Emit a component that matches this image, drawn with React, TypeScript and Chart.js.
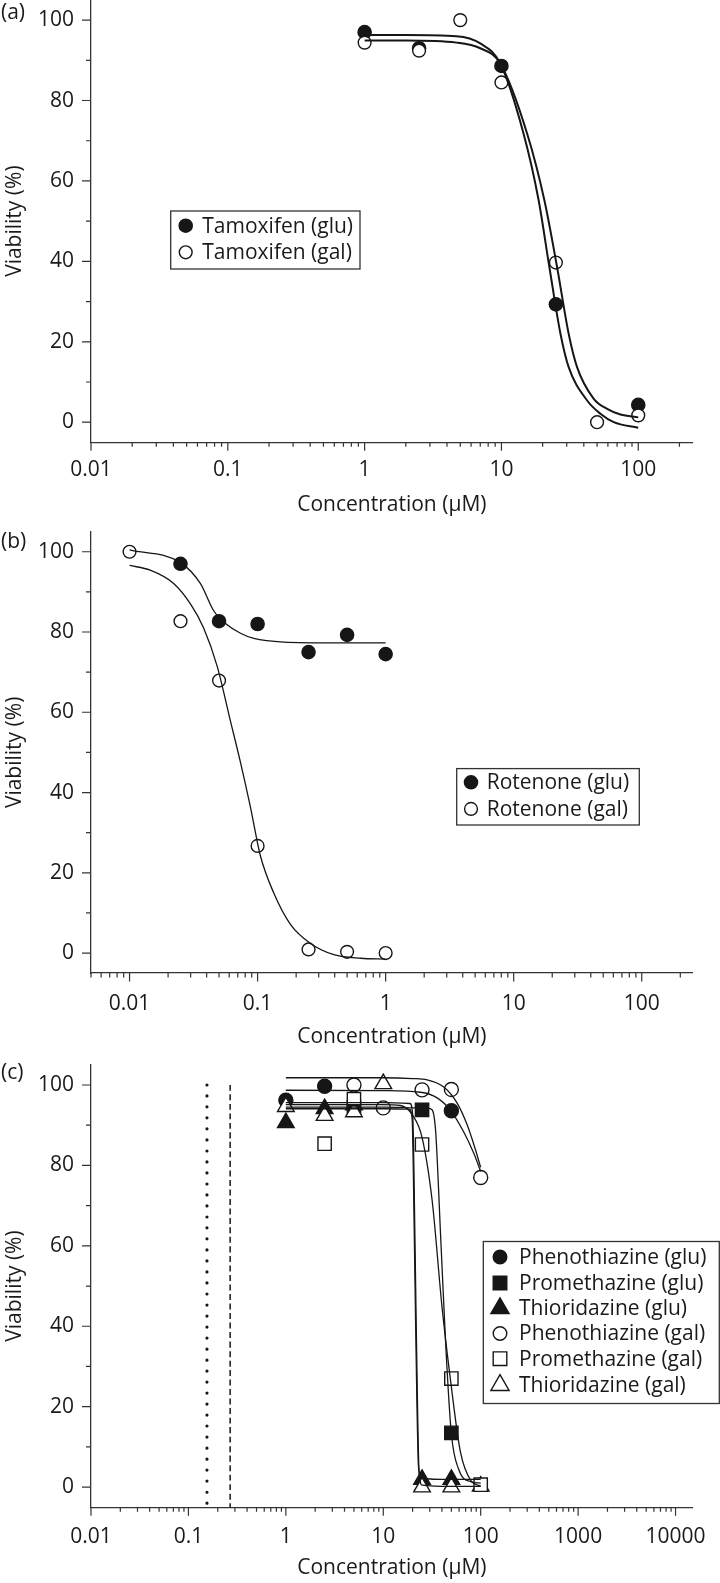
import React, { useEffect, useRef } from "react";
import { Chart, registerables } from "chart.js";

Chart.register(...registerables);

const FONT = "'Open Sans', 'Noto Sans', 'DejaVu Sans', sans-serif";
const INK = "#161616";
const TEXT_COLOR = "#1a1a1a";
const AXIS_COLOR = "#333333";
const FONT_SIZE = 21;

// ================= (a) Tamoxifen =================
const tamGluConc = [1, 2.5, 10, 25, 100];
const tamGluViab = [97.0, 93.0, 88.6, 29.3, 4.3];
const tamGalConc = [1, 2.5, 5, 10, 25, 50, 100];
const tamGalViab = [94.4, 92.4, 100.0, 84.5, 39.7, 0.0, 1.7];
const tamGluFitConc = [1, 2, 4.7, 7, 9.8, 14.5, 18.7, 22.4, 27, 31, 42.3, 52.9, 66.2, 100];
const tamGluFitViab = [96.3, 96.3, 96.0, 94.2, 89.2, 71.8, 55.2, 38.6, 22.0, 13.7, 5.4, 2.1, 0.0, -1.4];
const tamGalFitConc = [1, 2, 4.7, 7, 9.8, 15.4, 20.6, 25.5, 31, 35.7, 47.3, 59.2, 74.1, 100];
const tamGalFitViab = [94.9, 94.9, 94.4, 93.0, 89.2, 71.8, 55.2, 38.6, 22.0, 13.7, 5.8, 3.3, 1.9, 1.2];

// ================= (b) Rotenone =================
const rotGluConc = [0.025, 0.05, 0.1, 0.25, 0.5, 1];
const rotGluViab = [97.0, 82.7, 82.0, 75.0, 79.3, 74.5];
const rotGalConc = [0.01, 0.025, 0.05, 0.1, 0.25, 0.5, 1];
const rotGalViab = [100.0, 82.7, 67.9, 26.7, 0.9, 0.3, 0.0];
const rotGluFitConc = [0.01, 0.025, 0.0357, 0.0454, 0.0578, 0.0735, 0.0934, 0.16, 0.394, 1];
const rotGluFitViab = [100.5, 97.3, 92.1, 85.3, 81.8, 79.7, 78.4, 77.5, 77.3, 77.3];
const rotGalFitConc = [0.01, 0.0145, 0.0221, 0.0299, 0.0379, 0.0483, 0.0614, 0.0735, 0.088, 0.105, 0.134, 0.181, 0.259, 0.394, 0.638, 1];
const rotGalFitViab = [96.6, 95.4, 92.1, 87.0, 81.0, 71.5, 57.8, 47.5, 36.3, 24.3, 14.9, 7.1, 2.4, -0.4, -1.3, -1.5];

// ================= (c) Phenothiazines =================
const phenGluConc = [1, 2.5, 50];
const phenGluViab = [96.2, 99.7, 93.6];
const promGluConc = [5, 25, 50];
const promGluViab = [94.5, 93.8, 13.5];
const thioGluConc = [1, 2.5, 5, 25, 50];
const thioGluViab = [90.6, 94.1, 95.0, 1.9, 1.9];
const phenGalConc = [5, 10, 25, 50, 100];
const phenGalViab = [100.0, 94.3, 98.8, 98.9, 77.0];
const promGalConc = [2.5, 5, 25, 50, 100];
const promGalViab = [85.4, 96.5, 85.2, 27.0, 0.6];
const thioGalConc = [1, 2.5, 5, 10, 25, 50, 100];
const thioGalViab = [94.6, 92.4, 93.3, 100.3, 0.0, 0.0, 0.2];

const phenGluFitConc = [1, 10, 24.1, 35.7, 49, 67, 84.9, 100];
const phenGluFitViab = [98.7, 98.6, 98.2, 96.8, 93.7, 88.3, 83.0, 78.5];
const phenGalFitConc = [1, 10, 20, 28.2, 41.8, 57.3, 72.6, 88.4, 100];
const phenGalFitViab = [101.8, 101.8, 101.6, 101.3, 99.5, 95.5, 90.1, 83.9, 79.5];
const promGluFitConc = [1, 10, 25, 30.5, 34.3, 38.8, 43.7, 50, 59.7, 80, 100];
const promGluFitViab = [94.5, 94.5, 94.3, 94.1, 89.2, 62.4, 35.6, 13.2, 4.3, 1.3, 1.0];
const promGalFitConc = [1, 10, 15, 20, 25, 31.7, 40.2, 49, 62, 80, 100];
const promGalFitViab = [95.1, 95.1, 94.9, 92.5, 87.0, 71.4, 44.5, 26.6, 8.7, 1.5, 0.3];
const thioGluFitConc = [1, 10, 18.5, 19.8, 20.3, 21.5, 23.0, 24.5, 50, 100];
const thioGluFitViab = [94.1, 94.1, 94.0, 91.5, 80.0, 40.0, 5.0, 2.2, 1.9, 1.9];
const thioGalFitConc = [1, 10, 18.8, 20.1, 20.6, 21.8, 23.3, 25, 50, 100];
const thioGalFitViab = [95.6, 95.6, 95.4, 92.0, 80.0, 40.0, 4.0, 0.5, 0.2, 0.2];

// reference lines in (c)
const dottedLineConc = 0.155;
const dashedLineConc = 0.268;
const refLineViab = [100, -5];

// ticks
const yTickValues = [0, 20, 40, 60, 80, 100];
const xTicksA = [0.01, 0.1, 1, 10, 100];
const xTicksB = [0.01, 0.1, 1, 10, 100];
const xTicksC = [0.01, 0.1, 1, 10, 100, 1000, 10000];

type Marker = { style: "circle" | "rect" | "triangle"; filled: boolean; radius: number };

const pts = (xs: number[], ys: number[]) => xs.map((x, i) => ({ x, y: ys[i] }));

function pointSet(label: string, xs: number[], ys: number[], m: Marker, order: number) {
  return {
    label,
    data: pts(xs, ys),
    showLine: false,
    pointStyle: m.style,
    pointRadius: m.radius,
    pointHoverRadius: m.radius,
    pointBackgroundColor: m.filled ? INK : "#ffffff",
    pointBorderColor: INK,
    pointBorderWidth: 1.4,
    order,
    clip: 14,
  };
}

function curveSet(label: string, xs: number[], ys: number[], width: number, order = 0, dash: number[] = [], cap = "butt") {
  return {
    label,
    data: pts(xs, ys),
    showLine: true,
    pointRadius: 0,
    pointHoverRadius: 0,
    borderColor: INK,
    borderWidth: width,
    borderDash: dash,
    borderCapStyle: cap,
    cubicInterpolationMode: "monotone",
    fill: false,
    order,
    clip: 14,
  };
}

function drawMarker(ctx: CanvasRenderingContext2D, m: Marker, x: number, y: number) {
  const r = m.radius;
  ctx.beginPath();
  if (m.style === "circle") {
    ctx.arc(x, y, r, 0, Math.PI * 2);
  } else if (m.style === "rect") {
    const s = r * Math.SQRT1_2;
    ctx.rect(x - s, y - s, 2 * s, 2 * s);
  } else {
    const a = (2 * Math.PI) / 3;
    ctx.moveTo(x, y - r);
    ctx.lineTo(x + Math.sin(a) * r, y - Math.cos(a) * r);
    ctx.lineTo(x + Math.sin(2 * a) * r, y - Math.cos(2 * a) * r);
  }
  ctx.closePath();
  ctx.fillStyle = m.filled ? INK : "#ffffff";
  ctx.fill();
  ctx.lineWidth = 1.4;
  ctx.strokeStyle = INK;
  ctx.stroke();
}

interface LegendSpec {
  left: number;
  top: number;
  width: number;
  height: number;
  rows: number[];
  markerX: number;
  textX: number;
  items: { label: string; marker: Marker }[];
}

interface PanelSpec {
  height: number;
  padTop: number;
  xAxisHeight: number;
  titlePadBottom: number;
  tickLabelPad: number;
  xMin: number;
  xMax: number;
  xTicks: number[];
  datasets: any[];
  legend: LegendSpec;
  tag: string;
  tagY: number;
}

function makeConfig(s: PanelSpec): any {
  const deco = {
    id: "deco",
    afterDraw(chart: any) {
      const ctx: CanvasRenderingContext2D = chart.ctx;
      const xs = chart.scales.x;
      const ys = chart.scales.y;
      const area = chart.chartArea;
      ctx.save();
      // tick marks
      ctx.strokeStyle = AXIS_COLOR;
      ctx.lineWidth = 1.2;
      ctx.beginPath();
      const e0 = Math.floor(Math.log10(s.xMin));
      const e1 = Math.ceil(Math.log10(s.xMax));
      for (let e = e0; e <= e1; e++) {
        for (let m = 1; m <= 9; m++) {
          const v = m * Math.pow(10, e);
          if (v < s.xMin * 0.999 || v > s.xMax * 1.001) continue;
          const px = xs.getPixelForValue(v);
          const len = m === 1 ? 8.5 : 4.5;
          ctx.moveTo(px, area.bottom);
          ctx.lineTo(px, area.bottom + len);
        }
      }
      for (let v = 0; v <= 100; v += 10) {
        const py = ys.getPixelForValue(v);
        const len = v % 20 === 0 ? 9 : 5;
        ctx.moveTo(area.left - len, py);
        ctx.lineTo(area.left, py);
      }
      ctx.stroke();

      // legend box
      const L = s.legend;
      ctx.lineWidth = 1.3;
      ctx.strokeStyle = AXIS_COLOR;
      ctx.fillStyle = "#ffffff";
      ctx.fillRect(L.left, L.top, L.width, L.height);
      ctx.strokeRect(L.left, L.top, L.width, L.height);
      ctx.font = `${FONT_SIZE}px ${FONT}`;
      ctx.textBaseline = "middle";
      ctx.textAlign = "left";
      L.items.forEach((it, i) => {
        drawMarker(ctx, it.marker, L.markerX, L.rows[i]);
        ctx.fillStyle = TEXT_COLOR;
        ctx.fillText(it.label, L.textX, L.rows[i] + 1);
      });

      // panel tag
      ctx.fillStyle = TEXT_COLOR;
      ctx.font = `${FONT_SIZE}px ${FONT}`;
      ctx.textBaseline = "middle";
      ctx.textAlign = "left";
      ctx.fillText(s.tag, 1, s.tagY);
      ctx.restore();
    },
  };

  return {
    type: "scatter",
    data: { datasets: s.datasets },
    options: {
      animation: false,
      responsive: false,
      events: [],
      layout: { autoPadding: false, padding: { left: 0, right: 27.3, top: s.padTop, bottom: 0 } },
      plugins: { legend: { display: false }, tooltip: { enabled: false } },
      scales: {
        x: {
          type: "logarithmic",
          position: "bottom",
          min: s.xMin,
          max: s.xMax,
          afterBuildTicks: (sc: any) => {
            sc.ticks = s.xTicks.map((v) => ({ value: v }));
          },
          afterFit: (sc: any) => {
            sc.height = s.xAxisHeight;
            sc.paddingLeft = 0;
            sc.paddingRight = 0;
          },
          ticks: {
            autoSkip: false,
            maxRotation: 0,
            padding: s.tickLabelPad,
            color: TEXT_COLOR,
            font: { family: FONT, size: FONT_SIZE },
            callback: (v: any) => String(v),
          },
          grid: { display: false, drawTicks: false },
          border: { display: true, color: AXIS_COLOR, width: 1.3 },
          title: {
            display: true,
            text: "Concentration (\u03BCM)",
            color: TEXT_COLOR,
            font: { family: FONT, size: FONT_SIZE },
            padding: { top: 0, bottom: s.titlePadBottom },
          },
        },
        y: {
          type: "linear",
          position: "left",
          min: -5,
          max: 105,
          afterBuildTicks: (sc: any) => {
            sc.ticks = yTickValues.map((v) => ({ value: v }));
          },
          afterFit: (sc: any) => {
            sc.width = 91;
            sc.paddingTop = 0;
            sc.paddingBottom = 0;
          },
          ticks: {
            padding: 17,
            color: TEXT_COLOR,
            font: { family: FONT, size: FONT_SIZE },
          },
          grid: { display: false, drawTicks: false },
          border: { display: true, color: AXIS_COLOR, width: 1.3 },
          title: {
            display: true,
            text: "Viability (%)",
            color: TEXT_COLOR,
            font: { family: FONT, size: FONT_SIZE },
            padding: { top: 2.4, bottom: 0 },
          },
        },
      },
    },
    plugins: [deco],
  };
}

const filledCircleA: Marker = { style: "circle", filled: true, radius: 6.6 };
const openCircleA: Marker = { style: "circle", filled: false, radius: 6.4 };
const fCircC: Marker = { style: "circle", filled: true, radius: 7 };
const fRectC: Marker = { style: "rect", filled: true, radius: 9.4 };
const fTriC: Marker = { style: "triangle", filled: true, radius: 9.6 };
const oCircC: Marker = { style: "circle", filled: false, radius: 7 };
const oRectC: Marker = { style: "rect", filled: false, radius: 9.4 };
const oTriC: Marker = { style: "triangle", filled: false, radius: 9.6 };

function specA(): PanelSpec {
  return {
    height: 525,
    padTop: 0,
    xAxisHeight: 82.7,
    titlePadBottom: 7.4,
    tickLabelPad: 15.4,
    xMin: 0.01,
    xMax: 250,
    xTicks: xTicksA,
    tag: "(a)",
    tagY: 13,
    datasets: [
      curveSet("Tamoxifen (glu) fit", tamGluFitConc, tamGluFitViab, 2, 0),
      curveSet("Tamoxifen (gal) fit", tamGalFitConc, tamGalFitViab, 2, 0),
      pointSet("Tamoxifen (gal)", tamGalConc, tamGalViab, openCircleA, 1),
      pointSet("Tamoxifen (glu)", tamGluConc, tamGluViab, filledCircleA, 2),
    ],
    legend: {
      left: 170.7,
      top: 211,
      width: 189.3,
      height: 58,
      rows: [225.7, 252.3],
      markerX: 185.7,
      textX: 202.3,
      items: [
        { label: "Tamoxifen (glu)", marker: filledCircleA },
        { label: "Tamoxifen (gal)", marker: openCircleA },
      ],
    },
  };
}

function specB(): PanelSpec {
  const off = 525;
  return {
    height: 525,
    padTop: 6.7,
    xAxisHeight: 76.9,
    titlePadBottom: 0.4,
    tickLabelPad: 18.4,
    xMin: 0.005,
    xMax: 250,
    xTicks: xTicksB,
    tag: "(b)",
    tagY: 542 - off,
    datasets: [
      curveSet("Rotenone (glu) fit", rotGluFitConc, rotGluFitViab, 1.3, 0),
      curveSet("Rotenone (gal) fit", rotGalFitConc, rotGalFitViab, 1.3, 0),
      pointSet("Rotenone (gal)", rotGalConc, rotGalViab, openCircleA, 1),
      pointSet("Rotenone (glu)", rotGluConc, rotGluViab, filledCircleA, 2),
    ],
    legend: {
      left: 456.7,
      top: 768.6 - off,
      width: 182.6,
      height: 56.4,
      rows: [782.3 - off, 808.9 - off],
      markerX: 471,
      textX: 486.7,
      items: [
        { label: "Rotenone (glu)", marker: filledCircleA },
        { label: "Rotenone (gal)", marker: openCircleA },
      ],
    },
  };
}

function specC(): PanelSpec {
  const off = 1050;
  const lg = (m: Marker): Marker => ({ ...m, radius: m.style === "triangle" ? 10.5 : m.style === "rect" ? 9.6 : 6.8 });
  return {
    height: 533,
    padTop: 14.9,
    xAxisHeight: 75.8,
    titlePadBottom: 1.9,
    tickLabelPad: 17.4,
    xMin: 0.01,
    xMax: 15000,
    xTicks: xTicksC,
    tag: "(c)",
    tagY: 1073 - off,
    datasets: [
      curveSet("Phenothiazine (glu) fit", phenGluFitConc, phenGluFitViab, 1.3, 0),
      curveSet("Promethazine (glu) fit", promGluFitConc, promGluFitViab, 1.3, 0),
      curveSet("Thioridazine (glu) fit", thioGluFitConc, thioGluFitViab, 1.3, 0),
      curveSet("Phenothiazine (gal) fit", phenGalFitConc, phenGalFitViab, 1.3, 0),
      curveSet("Promethazine (gal) fit", promGalFitConc, promGalFitViab, 1.3, 0),
      curveSet("Thioridazine (gal) fit", thioGalFitConc, thioGalFitViab, 1.3, 0),
      pointSet("Phenothiazine (gal)", phenGalConc, phenGalViab, oCircC, 1),
      pointSet("Promethazine (gal)", promGalConc, promGalViab, oRectC, 1),
      pointSet("Thioridazine (gal)", thioGalConc, thioGalViab, oTriC, 1),
      pointSet("Phenothiazine (glu)", phenGluConc, phenGluViab, fCircC, 2),
      pointSet("Promethazine (glu)", promGluConc, promGluViab, fRectC, 2),
      pointSet("Thioridazine (glu)", thioGluConc, thioGluViab, fTriC, 2),
      curveSet("dotted", [dottedLineConc, dottedLineConc], refLineViab, 3.2, 3, [0, 11], "round"),
      curveSet("dashed", [dashedLineConc, dashedLineConc], refLineViab, 1.5, 3, [6, 3.5]),
    ],
    legend: {
      left: 483.3,
      top: 1241.5 - off,
      width: 236,
      height: 162,
      rows: [1257, 1283, 1308.3, 1333.5, 1358.7, 1385.2].map((v) => v - off),
      markerX: 500,
      textX: 519,
      items: [
        { label: "Phenothiazine (glu)", marker: lg(fCircC) },
        { label: "Promethazine (glu)", marker: lg(fRectC) },
        { label: "Thioridazine (glu)", marker: lg(fTriC) },
        { label: "Phenothiazine (gal)", marker: lg(oCircC) },
        { label: "Promethazine (gal)", marker: lg(oRectC) },
        { label: "Thioridazine (gal)", marker: lg(oTriC) },
      ],
    },
  };
}

function Panel({ top, spec }: { top: number; spec: () => PanelSpec }) {
  const ref = useRef<HTMLCanvasElement>(null);
  const s = spec();
  useEffect(() => {
    if (!ref.current) return;
    const chart = new Chart(ref.current, makeConfig(spec()));
    return () => chart.destroy();
  }, []);
  return (
    <canvas
      ref={ref}
      width={720}
      height={s.height}
      style={{ position: "absolute", left: 0, top, width: 720, height: s.height, display: "block" }}
    />
  );
}

export default function App() {
  return (
    <div style={{ position: "absolute", left: 0, top: 0, width: 720, height: 1583, background: "#ffffff", overflow: "hidden" }}>
      <Panel top={0} spec={specA} />
      <Panel top={525} spec={specB} />
      <Panel top={1050} spec={specC} />
    </div>
  );
}
